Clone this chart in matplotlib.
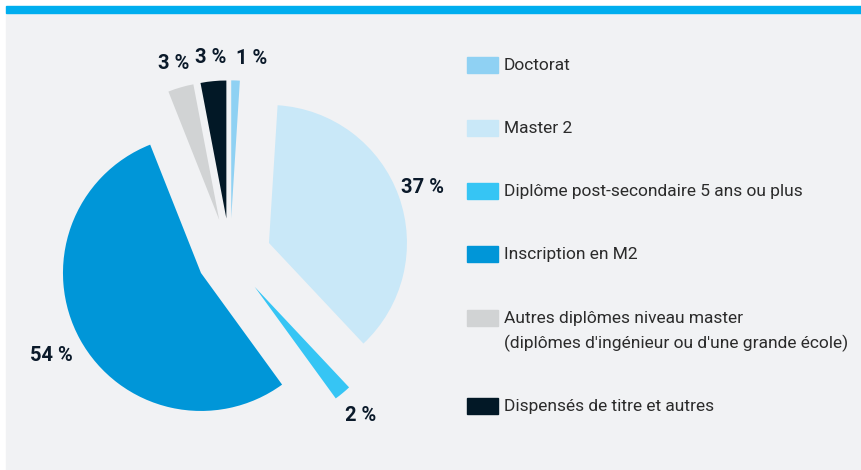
import matplotlib.pyplot as plt
import matplotlib.patches as mpatches
import numpy as np

# Data
categories = ['Doctorat', 'Master 2', 'Diplôme post-secondaire 5 ans ou plus',
              'Inscription en M2',
              "Autres diplômes niveau master\n(diplômes d'ingénieur ou d'une grande école)",
              'Dispensés de titre et autres']
values = [1, 37, 2, 54, 3, 3]
value_labels = ['1 %', '37 %', '2 %', '54 %', '3 %', '3 %']
colors = ['#8fd1f3', '#c9e8f8', '#36c5f4', '#0096d8', '#d1d3d4', '#021826']

W, H = 861, 470
R = 138.0           # pie radius in pixels
cx, cy = 230, 257   # pie centre in pixels (from top)

plt.rcParams['font.family'] = ['Roboto', 'DejaVu Sans']

fig = plt.figure(figsize=(W / 100, H / 100), dpi=100)
fig.patch.set_facecolor('white')

# Background panel and top blue bar
fig.patches.append(mpatches.Rectangle((6 / W, 0), 1 - 6 / W, (H - 13) / H,
                                      transform=fig.transFigure, color='#f1f2f4', zorder=-2))
fig.patches.append(mpatches.Rectangle((6 / W, (H - 13) / H), 1 - 6 / W, 7 / H,
                                      transform=fig.transFigure, color='#00aeef', zorder=-2))

# Pie axes: one data unit = one radius
ax = fig.add_axes([0, 0, 1, 1])
ax.patch.set_alpha(0)

explode = [0.28, 0.30, 0.28, 0.24, 0.28, 0.28]
wedges, _ = ax.pie(values, colors=colors, startangle=90, counterclock=False,
                   explode=explode, radius=1, center=(0, 0), frame=True)
ax.set_xlim(-cx / R, (W - cx) / R)
ax.set_ylim(-(H - cy) / R, cy / R)
ax.axis('off')

# Percentage labels around the wedges
label_dist = [1.16, 1.18, 1.21, 1.24, 1.18, 1.17]
for i, (w, lab, d) in enumerate(zip(wedges, value_labels, label_dist)):
    ang = np.deg2rad((w.theta1 + w.theta2) / 2)
    x = w.center[0] + d * np.cos(ang)
    y = w.center[1] + d * np.sin(ang)
    ha = 'left' if i == 0 else 'center'
    ax.text(x, y, lab, ha=ha, va='center', fontsize=14.5, fontweight='bold',
            color='#0b1a2a')

# Legend drawn by hand (patch aligned with first line)
row_y = [65, 128, 191, 254, 318, 406]
for cat, col, yy in zip(categories, colors, row_y):
    fig.patches.append(mpatches.Rectangle((467 / W, (H - yy - 8) / H), 31 / W, 16 / H,
                                          transform=fig.transFigure, color=col))
    fig.text(504 / W, (H - yy + 7) / H, cat, ha='left', va='top',
             fontsize=12.5, color='#2b2b2b', linespacing=1.65)

fig.savefig('out.png', dpi=100, facecolor=fig.get_facecolor())
